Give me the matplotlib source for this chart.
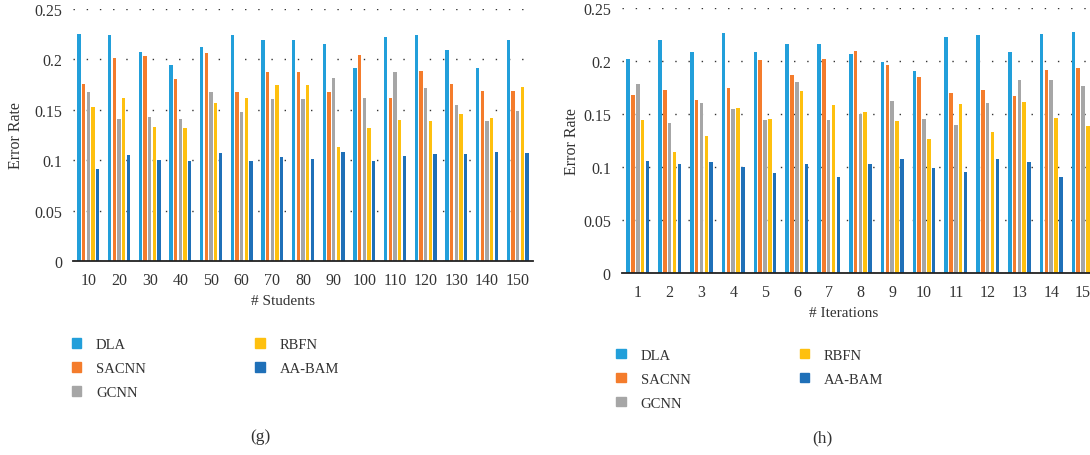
import numpy as np
import matplotlib
matplotlib.use('Agg')
import matplotlib.pyplot as plt
from matplotlib.patches import Patch

plt.rcParams['font.family'] = ['Liberation Serif', 'DejaVu Serif']

methods = ['DLA', 'SACNN', 'GCNN', 'RBFN', 'AA-BAM']
colors = ['#229fda', '#f47c2c', '#a6a6a6', '#fec00f', '#1f70b8']

# (g) error rate vs number of students
students = [10, 20, 30, 40, 50, 60, 70, 80, 90, 100, 110, 120, 130, 140, 150]
g_dla = [0.2255, 0.2245, 0.2076, 0.1947, 0.2126, 0.2245, 0.2195, 0.2195, 0.2156, 0.1917,
         0.2225, 0.2245, 0.2096, 0.1917, 0.2195]
g_sacnn = [0.1758, 0.2017, 0.2036, 0.1808, 0.2066, 0.1679, 0.1877, 0.1877, 0.1679, 0.2046,
           0.1619, 0.1887, 0.1758, 0.1689, 0.1689]
g_gcnn = [0.1679, 0.1411, 0.1430, 0.1411, 0.1679, 0.1480, 0.1609, 0.1609, 0.1818, 0.1619,
          0.1877, 0.1719, 0.1550, 0.1391, 0.1490]
g_rbfn = [0.1533, 0.1613, 0.1331, 0.1321, 0.1570, 0.1620, 0.1748, 0.1748, 0.1132, 0.1321,
          0.1401, 0.1391, 0.1460, 0.1420, 0.1728]
g_aabam = [0.0914, 0.1053, 0.1003, 0.0993, 0.1073, 0.0993, 0.1033, 0.1013, 0.1083, 0.0993,
           0.1043, 0.1063, 0.1063, 0.1083, 0.1073]

# (h) error rate vs number of iterations
iterations = list(range(1, 16))
h_dla = [0.2015, 0.2194, 0.2081, 0.2260, 0.2081, 0.2156, 0.2156, 0.2062, 0.1987, 0.1902,
         0.2222, 0.2241, 0.2081, 0.2250, 0.2269]
h_sacnn = [0.1676, 0.1723, 0.1629, 0.1742, 0.2006, 0.1864, 0.2015, 0.2090, 0.1959, 0.1846,
           0.1695, 0.1723, 0.1667, 0.1911, 0.1930]
h_gcnn = [0.1780, 0.1412, 0.1601, 0.1544, 0.1441, 0.1798, 0.1441, 0.1497, 0.1620, 0.1450,
          0.1394, 0.1601, 0.1817, 0.1817, 0.1761]
h_rbfn = [0.1441, 0.1139, 0.1290, 0.1554, 0.1450, 0.1714, 0.1582, 0.1516, 0.1431, 0.1262,
          0.1591, 0.1328, 0.1610, 0.1460, 0.1384]
h_aabam = [0.1055, 0.1026, 0.1045, 0.0998, 0.0942, 0.1026, 0.0904, 0.1026, 0.1073, 0.0989,
           0.0951, 0.1073, 0.1045, 0.0904, 0.0904]

yticks = [0, 0.05, 0.1, 0.15, 0.2, 0.25]
yticklabels = ['0', '0.05', '0.1', '0.15', '0.2', '0.25']


def draw(ax, cats, series, xlabel, label_x, label_y):
    x = np.arange(len(cats))
    step = 0.152
    width = 0.112
    for i, vals in enumerate(series):
        ax.bar(x + (i - 2) * step, vals, width, color=colors[i], zorder=2)
    ax.set_xlim(-0.5, len(cats) - 0.5)
    ax.set_ylim(0, 0.25)
    ax.set_yticks(yticks)
    ax.set_yticklabels(yticklabels)
    ax.set_xticks(x)
    ax.set_xticklabels([str(c) for c in cats])
    ax.grid(axis='y', color='#333333', linestyle=(0, (1, 8.5)), linewidth=1.0, zorder=0)
    ax.set_axisbelow(True)
    for s in ['left', 'right', 'top']:
        ax.spines[s].set_visible(False)
    ax.spines['bottom'].set_color('#222222')
    ax.spines['bottom'].set_linewidth(1.3)
    ax.tick_params(axis='y', length=0, labelsize=11.5, colors='#333333', pad=8)
    ax.tick_params(axis='x', length=0, labelsize=11.5, colors='#333333', pad=8)
    ax.set_ylabel('Error Rate', fontsize=11.5, color='#333333')
    ax.set_xlabel(xlabel, fontsize=11, color='#333333')
    ax.xaxis.set_label_coords(label_x, label_y)


fig = plt.figure(figsize=(10.9, 4.56), dpi=100)

ax1 = fig.add_axes([0.067, 0.4254, 0.422, 0.5526])
draw(ax1, students, [g_dla, g_sacnn, g_gcnn, g_rbfn, g_aabam], '# Students', 0.457, -0.13)
ax1.yaxis.set_label_coords(-0.107, 0.5)

ax2 = fig.add_axes([0.5706, 0.3991, 0.4376, 0.5822])
draw(ax2, iterations, [h_dla, h_sacnn, h_gcnn, h_rbfn, h_aabam], '# Iterations', 0.464, -0.125)
ax2.yaxis.set_label_coords(-0.089, 0.5)

handles = [Patch(color=c, label=m) for c, m in zip(colors, methods)]
leg_kw = dict(ncol=2, frameon=False, fontsize=10.5, handlelength=0.65, handleheight=0.65,
              handletextpad=1.0, columnspacing=7.5, labelspacing=0.75,
              labelcolor='#333333')
fig.legend(handles=handles, loc='upper left', bbox_to_anchor=(0.054, 0.285), **leg_kw)
fig.legend(handles=handles, loc='upper left', bbox_to_anchor=(0.5535, 0.262), **leg_kw)

fig.text(260 / 1090, 1 - 437 / 456, '(g)', fontsize=12.5, ha='center', va='center', color='#333333')
fig.text(822 / 1090, 1 - 438 / 456, '(h)', fontsize=12.5, ha='center', va='center', color='#333333')

fig.savefig('out.png', dpi=100)
